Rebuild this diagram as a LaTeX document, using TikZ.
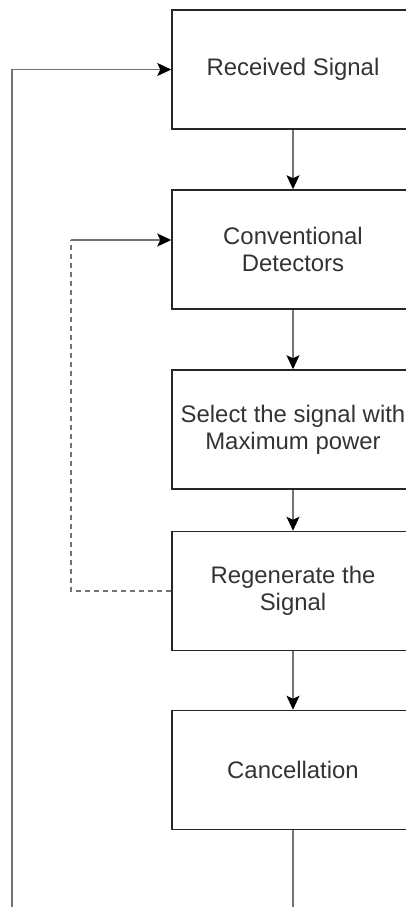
\documentclass[tikz,border=0pt]{standalone}
\usepackage{fontspec}
\setmainfont{Liberation Sans}
\usetikzlibrary{arrows.meta,positioning}

\begin{document}
\begin{tikzpicture}[x=1bp, y=1bp,
  every node/.style={font=\fontsize{24}{27}\selectfont, text=black!80},
  blk/.style={draw=black!85, line width=1.5bp, minimum width=242bp, minimum height=119bp, align=center, inner sep=0pt},
  arrow/.style={-{Stealth[length=14bp, width=13bp, inset=3bp, color=black]}, draw=black!55, line width=1.2bp},
  fback/.style={draw=black!55, line width=1.2bp, dash pattern=on 5bp off 4bp}
]
  \useasboundingbox (0,0) rectangle (405,-907);

  \node[blk] (recv)  at (293,-69.5) {Received Signal};
  \node[blk] (conv)  at (293,-249.5) {Conventional\\Detectors};
  \node[blk] (sel)   at (293,-429.5) {Select the signal with\\Maximum power};
  \node[blk] (regen) at (293,-591) {Regenerate the\\Signal};
  \node[blk] (canc)  at (293,-770) {Cancellation};

  \coordinate (loopbot) at (12,-940);
  \coordinate (fbtop)   at (71,-240);

  \draw[arrow] (recv) -- (conv);
  \draw[arrow] (conv) -- (sel);
  \draw[arrow] (sel) -- (regen);
  \draw[arrow] (regen) -- (canc);
  \draw[arrow] (canc.south) |- (loopbot) |- (recv.west);
  \draw[fback] (regen.west) -| (fbtop);
  \draw[arrow] (fbtop) -- (fbtop -| conv.west);
\end{tikzpicture}
\end{document}
